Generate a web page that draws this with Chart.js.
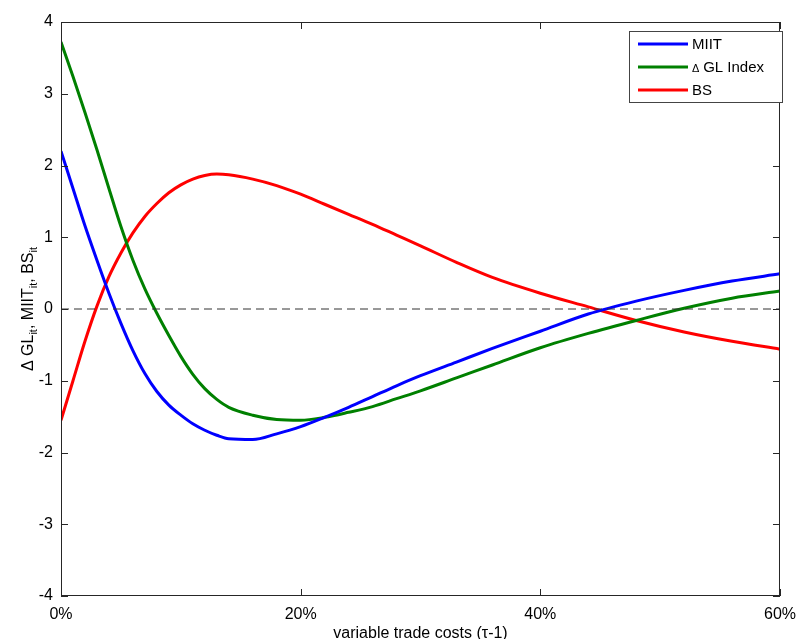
<!DOCTYPE html>
<html>
<head>
<meta charset="utf-8">
<script src="https://cdn.jsdelivr.net/npm/chart.js@4/dist/chart.umd.min.js"></script>
<style>
  html, body { margin: 0; padding: 0; background: #fff; }
  #wrap { width: 805px; height: 639px; }
</style>
</head>
<body>
<div id="wrap"><canvas id="costChart" width="805" height="639"></canvas></div>
<script>
// trade cost grid, in percent
const costs = [0, 1, 2, 3, 4, 5, 6, 7, 8, 9, 10, 11, 12, 13, 14, 16, 18, 20, 22, 24, 26, 28, 30, 33, 36, 40, 44, 48, 52, 56, 60];

const miit = [2.2, 1.68, 1.16, 0.68, 0.22, -0.2, -0.58, -0.9, -1.15, -1.34, -1.48, -1.6, -1.69, -1.76, -1.81, -1.82, -1.74, -1.64, -1.51, -1.37, -1.22, -1.07, -0.93, -0.74, -0.55, -0.31, -0.07, 0.11, 0.26, 0.39, 0.49];
const glIndex = [3.72, 3.24, 2.74, 2.22, 1.68, 1.15, 0.68, 0.28, -0.06, -0.37, -0.66, -0.91, -1.11, -1.26, -1.37, -1.48, -1.54, -1.55, -1.51, -1.44, -1.36, -1.25, -1.14, -0.96, -0.78, -0.54, -0.34, -0.16, 0.01, 0.15, 0.25];
const bs = [-1.55, -1.0, -0.45, 0.04, 0.45, 0.78, 1.06, 1.29, 1.47, 1.62, 1.73, 1.81, 1.86, 1.88, 1.87, 1.81, 1.72, 1.6, 1.46, 1.32, 1.18, 1.03, 0.88, 0.65, 0.44, 0.22, 0.03, -0.16, -0.32, -0.45, -0.56];

const xTicks = [0, 20, 40, 60];
const yTicks = [-4, -3, -2, -1, 0, 1, 2, 3, 4];

const FONT = '"Liberation Sans", Arial, sans-serif';
const AXIS = '#262626';

function pts(ys){ return costs.map((x, i) => ({ x: x, y: ys[i] })); }

// box around the axes with inward tick marks on all four sides
const boxTicks = {
  id: 'boxTicks',
  afterDatasetsDraw(chart){
    const { ctx, chartArea: a, scales } = chart;
    ctx.save();
    ctx.strokeStyle = AXIS;
    ctx.lineWidth = 1;
    ctx.strokeRect(a.left + 0.5, a.top + 0.5, a.right - a.left - 1, a.bottom - a.top - 1);
    ctx.beginPath();
    xTicks.forEach(v => {
      const px = Math.round(scales.x.getPixelForValue(v)) + 0.5;
      ctx.moveTo(px, a.bottom); ctx.lineTo(px, a.bottom - 7);
      ctx.moveTo(px, a.top); ctx.lineTo(px, a.top + 7);
    });
    yTicks.forEach(v => {
      const py = Math.round(scales.y.getPixelForValue(v)) + 0.5;
      ctx.moveTo(a.left, py); ctx.lineTo(a.left + 7, py);
      ctx.moveTo(a.right, py); ctx.lineTo(a.right - 7, py);
    });
    ctx.stroke();
    ctx.restore();
  }
};

// legend box in the upper right corner of the plot
const boxLegend = {
  id: 'boxLegend',
  afterDraw(chart){
    const ctx = chart.ctx;
    const sets = chart.data.datasets.filter(d => d.label);
    const left = 629, top = 31, w = 153, rowH = 23;
    ctx.save();
    ctx.fillStyle = '#fff';
    ctx.fillRect(left, top, w, rowH * sets.length + 2);
    ctx.strokeStyle = '#444';
    ctx.lineWidth = 1;
    ctx.strokeRect(left + 0.5, top + 0.5, w, rowH * sets.length + 2);
    sets.forEach((d, i) => {
      const y = top + 13 + i * rowH;
      ctx.strokeStyle = d.borderColor;
      ctx.lineWidth = 3;
      ctx.beginPath();
      ctx.moveTo(638, y); ctx.lineTo(688, y);
      ctx.stroke();
      ctx.fillStyle = '#000';
      ctx.textBaseline = 'middle';
      ctx.textAlign = 'left';
      if (d.label.startsWith('Δ')) {
        ctx.font = '11px ' + FONT;
        ctx.fillText('Δ', 692, y + 2);
        ctx.font = '15px ' + FONT;
        ctx.fillText(d.label.slice(1), 699, y + 1);
      } else {
        ctx.font = '15px ' + FONT;
        ctx.fillText(d.label, 692, y + 1);
      }
    });
    ctx.restore();
  }
};

// axis titles (y title needs subscripts)
const axisTitles = {
  id: 'axisTitles',
  afterDraw(chart){
    const { ctx, chartArea: a } = chart;
    ctx.save();
    ctx.fillStyle = '#000';
    ctx.textBaseline = 'alphabetic';
    ctx.textAlign = 'center';
    ctx.font = '16px ' + FONT;
    ctx.fillText('variable trade costs (τ-1)', (a.left + a.right) / 2, 638);

    const parts = [['Δ ', 0], ['GL', 0], ['it', 1], [', MIIT', 0], ['it', 1], [', BS', 0], ['it', 1]];
    const big = '16px ' + FONT, small = '11px ' + FONT;
    let total = 0;
    parts.forEach(p => { ctx.font = p[1] ? small : big; total += ctx.measureText(p[0]).width; });
    ctx.translate(33, (a.top + a.bottom) / 2);
    ctx.rotate(-Math.PI / 2);
    ctx.textAlign = 'left';
    let x = -total / 2;
    parts.forEach(p => {
      ctx.font = p[1] ? small : big;
      ctx.fillText(p[0], x, p[1] ? 4 : 0);
      x += ctx.measureText(p[0]).width;
    });
    ctx.restore();
  }
};

const lineStyle = { borderWidth: 3, pointRadius: 0, fill: false, cubicInterpolationMode: 'monotone' };

new Chart(document.getElementById('costChart').getContext('2d'), {
  type: 'line',
  data: {
    datasets: [
      { label: '', data: [{ x: 0, y: 0 }, { x: 60, y: 0 }], borderColor: '#333', borderWidth: 1, borderDash: [8, 5], pointRadius: 0 },
      Object.assign({ label: 'MIIT', data: pts(miit), borderColor: '#0000ff' }, lineStyle),
      Object.assign({ label: 'Δ GL Index', data: pts(glIndex), borderColor: '#008000' }, lineStyle),
      Object.assign({ label: 'BS', data: pts(bs), borderColor: '#ff0000' }, lineStyle)
    ]
  },
  options: {
    responsive: false,
    animation: false,
    layout: { padding: { top: 22, right: 17, left: 0, bottom: 0 } },
    plugins: { legend: { display: false }, tooltip: { enabled: false } },
    scales: {
      x: {
        type: 'linear', min: 0, max: 60,
        afterBuildTicks: s => { s.ticks = xTicks.map(v => ({ value: v })); },
        afterFit: s => { s.height = 43; },
        grid: { display: false, drawTicks: false },
        border: { display: false },
        ticks: { padding: 9, color: '#000', font: { family: FONT, size: 16 }, maxRotation: 0, callback: v => v + '%' }
      },
      y: {
        min: -4, max: 4,
        afterBuildTicks: s => { s.ticks = yTicks.map(v => ({ value: v })); },
        afterFit: s => { s.width = 61; },
        grid: { display: false, drawTicks: false },
        border: { display: false },
        ticks: { padding: 8, color: '#000', font: { family: FONT, size: 16 } }
      }
    }
  },
  plugins: [boxTicks, boxLegend, axisTitles]
});
</script>
</body>
</html>
